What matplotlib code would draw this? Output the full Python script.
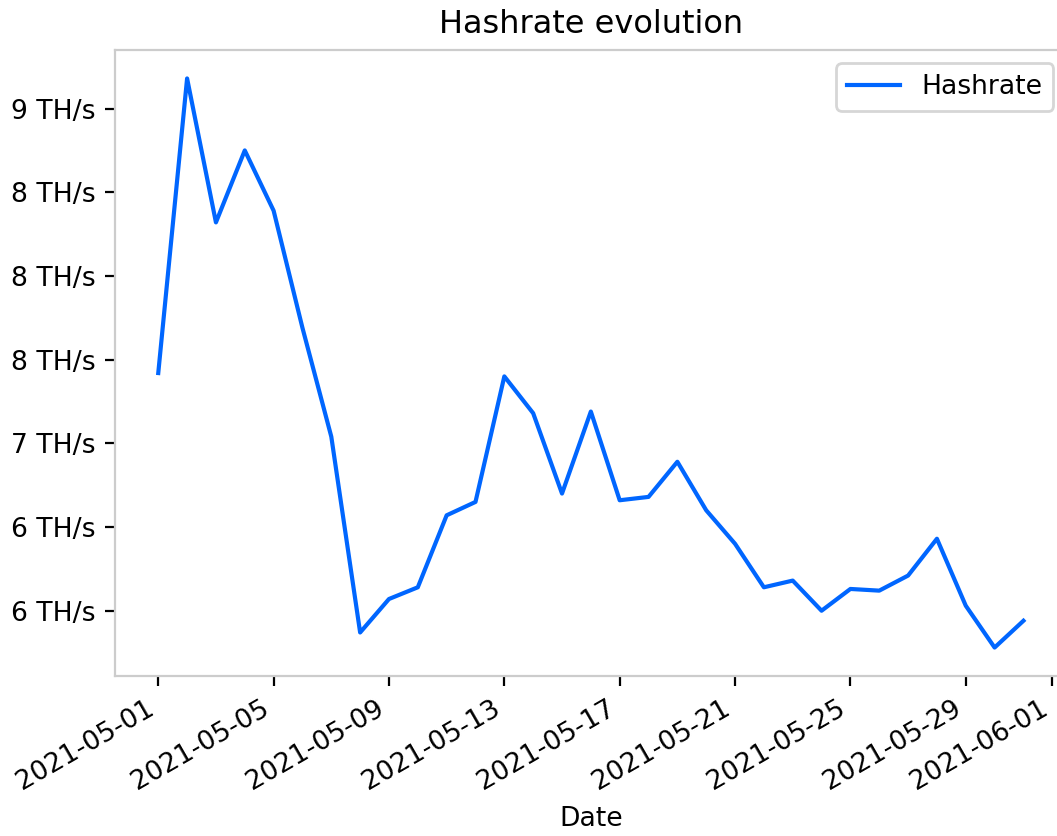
import numpy as np
import pandas as pd
import matplotlib
matplotlib.use("Agg")
import matplotlib.pyplot as plt
import matplotlib.dates as mdates
from matplotlib.ticker import FuncFormatter, MultipleLocator

plt.rcParams["font.size"] = 9.6

dates = pd.date_range("2021-05-01", "2021-05-31", freq="D")
hashrate = [7.42, 9.18, 8.32, 8.75, 8.39, 7.69, 7.04, 5.87, 6.07, 6.14,
            6.57, 6.65, 7.40, 7.18, 6.70, 7.19, 6.66, 6.68, 6.89, 6.60,
            6.40, 6.14, 6.18, 6.00, 6.13, 6.12, 6.21, 6.43, 6.03, 5.78,
            5.94]

fig = plt.figure(figsize=(1057 / 200, 836 / 200), dpi=200)
ax = fig.add_axes([115 / 1057, 1 - 676 / 836, 951.7 / 1057, 626 / 836])

ax.plot(dates, hashrate, color="#0066ff", linewidth=1.5, label="Hashrate")

ax.yaxis.set_major_locator(MultipleLocator(0.5))
ax.yaxis.set_major_formatter(FuncFormatter(lambda v, p: "{:.0f} TH/s".format(v)))
ax.xaxis.set_major_locator(mdates.AutoDateLocator())
ax.xaxis.set_major_formatter(mdates.DateFormatter("%Y-%m-%d"))
for lbl in ax.get_xticklabels():
    lbl.set_rotation(30)
    lbl.set_ha("right")

for s in ax.spines.values():
    s.set_color("#cccccc")

ax.set_title("Hashrate evolution", fontsize=11.5)
ax.set_xlabel("Date")
ax.legend(loc="upper right")

fig.savefig("out.png", dpi=200)
